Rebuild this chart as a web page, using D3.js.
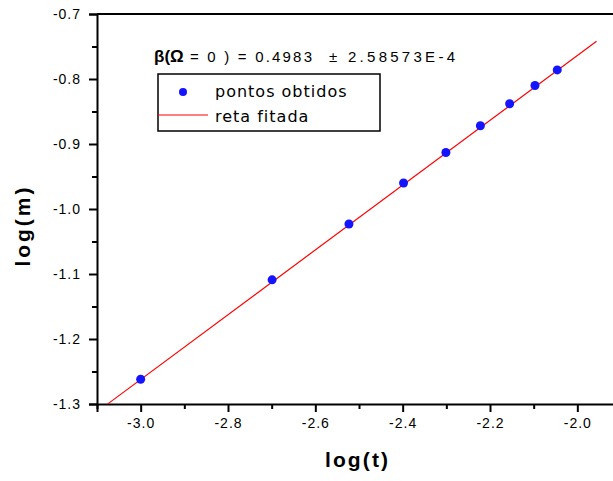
<!DOCTYPE html>
<html>
<head>
<meta charset="utf-8">
<script src="https://cdn.jsdelivr.net/npm/d3@7"></script>
<style>
  html, body { margin: 0; padding: 0; background: #fff; overflow: hidden; }
  svg { display: block; }
</style>
</head>
<body>
<svg id="chart" width="613" height="481"></svg>
<script>
// Measured points: log(t) vs log(m)
const logT = [-3.0, -2.699, -2.523, -2.398, -2.301, -2.222, -2.155, -2.097, -2.046];
const logM = [-1.262, -1.109, -1.023, -0.960, -0.913, -0.872, -0.838, -0.810, -0.786];

// Linear fit: log(m) = intercept + slope * log(t)
const fitSlope = 0.4983;
const fitIntercept = 0.2326;
const fitRange = [-3.076, -1.956];

// Axis ticks
const xMajorTicks = [-3.0, -2.8, -2.6, -2.4, -2.2, -2.0];
const xMinorTicks = [-3.1, -2.9, -2.7, -2.5, -2.3, -2.1, -1.9];
const yMajorTicks = [-0.7, -0.8, -0.9, -1.0, -1.1, -1.2, -1.3];
const yMinorTicks = [-0.75, -0.85, -0.95, -1.05, -1.15, -1.25];

// Text
const xTitle = "log(t)";
const yTitle = "log(m)";
const fitLabelBold = "β(Ω";
const fitLabelValue = "= 0 ) = 0.4983";
const fitLabelError = "±  2.58573E-4";
const legendItems = ["pontos obtidos", "reta fitada"];

const svg = d3.select("#chart");
const x = d3.scaleLinear().domain([-3.1, -1.9]).range([97, 621]);
const y = d3.scaleLinear().domain([-1.3, -0.7]).range([404, 14]);

const fmt = v => d3.format(".1f")(v).replace("\u2212", "-");
const font = "'Liberation Sans', Arial, sans-serif";

// Frame (top and right edges)
svg.append("path")
  .attr("d", `M${x(-3.1)},${y(-0.7)}H${x(-1.9)}V${y(-1.3)}`)
  .attr("fill", "none").attr("stroke", "#000").attr("stroke-width", 2);

// Bottom axis
const gx = svg.append("g").attr("transform", `translate(0,${y(-1.3)})`);
gx.call(d3.axisBottom(x).tickValues(xMajorTicks).tickSize(8).tickPadding(6).tickFormat(fmt));
const gxm = svg.append("g").attr("transform", `translate(0,${y(-1.3)})`);
gxm.call(d3.axisBottom(x).tickValues(xMinorTicks).tickSize(5).tickFormat(""));

// Left axis
const gy = svg.append("g").attr("transform", `translate(${x(-3.1)},0)`);
gy.call(d3.axisLeft(y).tickValues(yMajorTicks).tickSize(8).tickPadding(8).tickFormat(fmt));
const gym = svg.append("g").attr("transform", `translate(${x(-3.1)},0)`);
gym.call(d3.axisLeft(y).tickValues(yMinorTicks).tickSize(5).tickFormat(""));

svg.selectAll(".domain").attr("stroke-width", 2).attr("stroke", "#000");
svg.selectAll(".tick line").attr("stroke-width", 2).attr("stroke", "#000");
gxm.select(".domain").remove();
gym.select(".domain").remove();
svg.selectAll(".tick text")
  .attr("font-family", font).attr("font-size", 14)
  .attr("letter-spacing", 1).attr("fill", "#000");

// Fitted line
const line = d3.line().x(d => x(d)).y(d => y(fitIntercept + fitSlope * d));
svg.append("path")
  .attr("d", line(fitRange))
  .attr("fill", "none").attr("stroke", "#ff0000").attr("stroke-width", 1.2);

// Data points
svg.append("g").selectAll("circle")
  .data(logT.map((t, i) => [t, logM[i]]))
  .join("circle")
  .attr("cx", d => x(d[0])).attr("cy", d => y(d[1]))
  .attr("r", 4.5).attr("fill", "#1414ff");

// Axis titles
svg.append("text")
  .attr("x", 356.5).attr("y", 467)
  .attr("text-anchor", "middle")
  .attr("font-family", font).attr("font-weight", "bold").attr("font-size", 21)
  .attr("textLength", 63).attr("lengthAdjust", "spacing")
  .text(xTitle);

svg.append("text")
  .attr("transform", "translate(30,227) rotate(-90)")
  .attr("text-anchor", "middle")
  .attr("font-family", font).attr("font-weight", "bold").attr("font-size", 21)
  .attr("textLength", 79).attr("lengthAdjust", "spacing")
  .text(yTitle);

// Fit result label
const lab = svg.append("text").attr("y", 62)
  .attr("font-family", font).attr("font-size", 15).attr("fill", "#000");
lab.append("tspan").attr("x", 154).attr("font-weight", "bold").attr("font-size", 17).text(fitLabelBold);
lab.append("tspan").attr("x", 190).attr("textLength", 122).attr("lengthAdjust", "spacing").text(fitLabelValue);
lab.append("tspan").attr("x", 329).attr("textLength", 126).attr("lengthAdjust", "spacing").text(fitLabelError);

// Legend
const lg = svg.append("g");
lg.append("rect")
  .attr("x", 158).attr("y", 74).attr("width", 222).attr("height", 57)
  .attr("fill", "#fff").attr("stroke", "#000").attr("stroke-width", 1.5);
lg.append("circle").attr("cx", 183).attr("cy", 92).attr("r", 4).attr("fill", "#1414ff");
lg.append("line").attr("x1", 158).attr("x2", 208).attr("y1", 115).attr("y2", 115)
  .attr("stroke", "#ff0000").attr("stroke-width", 1.2);
lg.selectAll("text.item")
  .data(legendItems)
  .join("text")
  .attr("class", "item")
  .attr("x", 215).attr("y", (d, i) => 97 + i * 25)
  .attr("font-family", "'DejaVu Sans', sans-serif").attr("font-size", 16)
  .attr("letter-spacing", 1).attr("fill", "#000")
  .text(d => d);
</script>
</body>
</html>
